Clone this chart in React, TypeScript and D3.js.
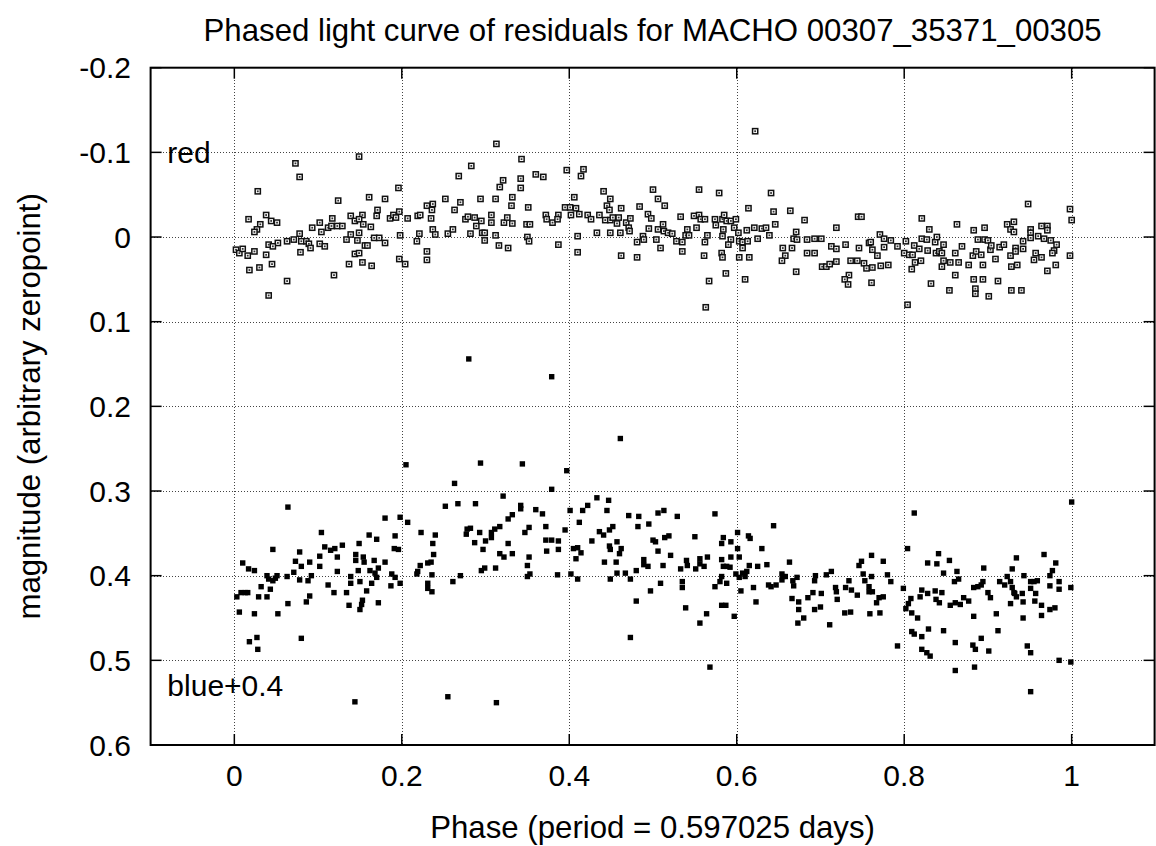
import React from "react";
import * as d3 from "d3";

const titleText = "Phased light curve of residuals for MACHO 00307_35371_00305";
const xLabelText = "Phase (period = 0.597025 days)";
const yLabelText = "magnitude (arbitrary zeropoint)";
const redLabel = "red";
const blueLabel = "blue+0.4";

const xTicks = [0, 0.2, 0.4, 0.6, 0.8, 1];
const xTickLabels = ["0", "0.2", "0.4", "0.6", "0.8", "1"];
const yTicks = [-0.2, -0.1, 0, 0.1, 0.2, 0.3, 0.4, 0.5, 0.6];
const yTickLabels = ["-0.2", "-0.1", "0", "0.1", "0.2", "0.3", "0.4", "0.5", "0.6"];

// red residuals: [phase, magnitude]
const redPoints: [number, number][] = [
[0.313,-0.110],[0.149,-0.095],[0.073,-0.087],[0.078,-0.071],[0.283,-0.084],[0.268,-0.072],[0.321,-0.067],[0.317,-0.059],[0.028,-0.054],[0.196,-0.058],[0.161,-0.047],[0.180,-0.045],[0.124,-0.043],[0.252,-0.045],[0.270,-0.041],[0.294,-0.045],[0.312,-0.045],[0.332,-0.047],[0.331,-0.037],[0.230,-0.037],[0.237,-0.039],[0.236,-0.032],[0.263,-0.032],[0.171,-0.032],[0.170,-0.025],[0.153,-0.026],[0.139,-0.025],[0.144,-0.019],[0.149,-0.021],[0.154,-0.015],[0.163,-0.012],[0.117,-0.022],[0.102,-0.017],[0.093,-0.011],[0.104,-0.006],[0.112,-0.011],[0.116,-0.013],[0.123,-0.013],[0.129,-0.013],[0.038,-0.026],[0.017,-0.021],[0.031,-0.015],[0.044,-0.019],[0.051,-0.017],[0.027,-0.009],[0.024,-0.006],[0.078,-0.004],[0.071,0.003],[0.063,0.005],[0.052,0.007],[0.041,0.009],[0.046,0.011],[0.080,0.005],[0.086,0.005],[0.089,0.008],[0.091,0.013],[0.102,0.008],[0.108,0.011],[0.079,0.018],[0.134,0.003],[0.139,-0.003],[0.147,0.004],[0.149,-0.005],[0.156,0.010],[0.159,0.010],[0.167,0.001],[0.173,0.001],[0.180,0.007],[0.198,-0.002],[0.221,-0.004],[0.218,0.005],[0.237,-0.009],[0.240,-0.003],[0.255,-0.004],[0.261,-0.009],[0.282,-0.004],[0.296,-0.005],[0.299,-0.005],[0.312,-0.002],[0.316,0.010],[0.327,0.013],[0.299,0.004],[0.276,-0.021],[0.279,-0.024],[0.287,-0.023],[0.289,-0.013],[0.295,-0.019],[0.307,-0.017],[0.307,-0.026],[0.322,-0.017],[0.326,-0.023],[0.332,-0.016],[0.207,-0.022],[0.219,-0.025],[0.222,-0.026],[0.235,-0.022],[0.186,-0.022],[0.190,-0.026],[0.193,-0.023],[0.197,-0.030],[0.002,0.015],[0.006,0.019],[0.010,0.014],[0.016,0.022],[0.024,0.017],[0.038,0.021],[0.045,0.032],[0.030,0.036],[0.018,0.039],[0.041,0.069],[0.063,0.052],[0.119,0.045],[0.137,0.032],[0.144,0.020],[0.149,0.019],[0.153,0.030],[0.164,0.034],[0.197,0.026],[0.204,0.032],[0.230,0.017],[0.230,0.027],
[0.622,-0.125],[0.343,-0.092],[0.342,-0.069],[0.342,-0.058],[0.360,-0.074],[0.369,-0.071],[0.397,-0.079],[0.414,-0.072],[0.417,-0.080],[0.351,-0.035],[0.349,-0.015],[0.353,-0.015],[0.350,0.000],[0.352,0.005],[0.372,-0.026],[0.373,-0.021],[0.380,-0.017],[0.387,-0.026],[0.386,-0.021],[0.387,0.009],[0.395,-0.035],[0.401,-0.035],[0.406,-0.047],[0.408,-0.034],[0.402,-0.026],[0.412,-0.027],[0.410,-0.001],[0.410,0.018],[0.422,-0.026],[0.426,-0.021],[0.433,-0.005],[0.436,-0.026],[0.441,-0.054],[0.449,-0.045],[0.445,-0.037],[0.448,-0.032],[0.443,-0.020],[0.449,-0.020],[0.452,-0.023],[0.457,-0.016],[0.459,-0.023],[0.462,-0.034],[0.449,-0.005],[0.461,-0.005],[0.462,0.022],[0.468,-0.017],[0.471,-0.011],[0.472,-0.007],[0.473,-0.022],[0.481,0.006],[0.481,0.024],[0.484,-0.036],[0.488,-0.001],[0.489,0.003],[0.494,-0.027],[0.498,-0.022],[0.495,-0.010],[0.500,-0.056],[0.506,-0.045],[0.514,-0.037],[0.504,0.003],[0.506,-0.009],[0.512,-0.015],[0.513,-0.007],[0.518,-0.005],[0.523,-0.004],[0.509,0.013],[0.528,0.005],[0.533,-0.024],[0.535,0.006],[0.535,0.017],[0.539,-0.002],[0.541,-0.009],[0.543,-0.002],[0.552,-0.011],[0.549,-0.025],[0.555,-0.026],[0.555,-0.056],[0.557,-0.021],[0.562,-0.021],[0.562,0.006],[0.565,-0.002],[0.561,0.022],[0.567,0.052],[0.563,0.083],[0.579,-0.052],[0.574,-0.021],[0.575,-0.014],[0.583,-0.021],[0.585,-0.026],[0.584,-0.009],[0.583,-0.001],[0.588,-0.019],[0.593,-0.019],[0.599,-0.021],[0.597,-0.011],[0.593,0.003],[0.590,0.009],[0.582,0.019],[0.583,0.024],[0.587,0.043],[0.602,-0.005],[0.603,0.005],[0.607,0.006],[0.613,0.005],[0.607,0.013],[0.603,0.024],[0.615,0.024],[0.610,0.050],[0.612,-0.008],[0.621,-0.011],[0.614,-0.034],[0.625,0.002],[0.630,-0.010],[0.635,-0.011],[0.639,-0.002],[0.641,-0.052],[0.644,-0.030],[0.646,-0.015],[0.664,-0.031],[0.655,0.013],[0.658,0.022],[0.654,0.028],[0.666,0.013],[0.668,0.002],[0.671,-0.006],[0.672,0.003],[0.671,0.041],
[0.948,-0.039],[0.998,-0.033],[1.000,-0.020],[0.998,0.022],[0.681,-0.020],[0.684,0.019],[0.693,0.019],[0.684,0.003],[0.693,0.002],[0.701,0.002],[0.702,0.035],[0.707,0.035],[0.711,0.032],[0.719,0.029],[0.713,0.011],[0.719,0.014],[0.719,-0.011],[0.730,0.009],[0.734,0.045],[0.729,0.050],[0.733,0.056],[0.736,0.028],[0.744,0.028],[0.745,-0.024],[0.749,-0.024],[0.746,0.013],[0.752,0.031],[0.755,0.037],[0.762,0.036],[0.758,0.007],[0.760,0.006],[0.762,0.015],[0.768,0.022],[0.771,-0.003],[0.776,0.002],[0.776,0.012],[0.784,0.004],[0.772,0.034],[0.781,0.033],[0.761,0.054],[0.792,0.011],[0.800,0.019],[0.802,0.005],[0.804,0.080],[0.809,0.038],[0.806,0.021],[0.810,0.021],[0.812,0.010],[0.813,0.030],[0.818,0.014],[0.821,-0.022],[0.820,0.028],[0.821,0.002],[0.830,-0.009],[0.827,0.003],[0.828,0.016],[0.832,0.055],[0.837,0.006],[0.839,0.000],[0.838,0.019],[0.842,0.017],[0.847,0.009],[0.845,0.019],[0.847,0.028],[0.845,0.035],[0.855,0.030],[0.854,0.063],[0.861,0.019],[0.861,0.045],[0.863,-0.015],[0.865,0.030],[0.869,0.011],[0.882,0.022],[0.877,0.033],[0.883,-0.008],[0.886,0.017],[0.892,0.021],[0.894,0.033],[0.896,-0.011],[0.888,0.003],[0.896,0.003],[0.900,0.004],[0.903,0.015],[0.904,0.010],[0.883,0.050],[0.894,0.050],[0.885,0.061],[0.885,0.067],[0.901,0.070],[0.912,0.052],[0.909,0.026],[0.914,0.012],[0.919,0.009],[0.923,-0.015],[0.927,-0.009],[0.931,-0.018],[0.931,-0.006],[0.927,0.022],[0.928,0.035],[0.935,0.033],[0.933,0.013],[0.933,0.017],[0.942,0.005],[0.942,0.014],[0.928,0.063],[0.940,0.063],[0.951,-0.009],[0.951,-0.005],[0.951,0.001],[0.957,0.019],[0.955,0.027],[0.964,0.024],[0.960,-0.001],[0.964,-0.013],[0.967,0.002],[0.971,-0.013],[0.971,-0.008],[0.975,0.004],[0.982,0.009],[0.979,0.016],[0.977,0.019],[0.981,0.033],[0.971,0.040]
];

// blue residuals + 0.4 offset: [phase, magnitude]
const bluePoints: [number, number][] = [
[0.205,0.269],[0.294,0.267],[0.263,0.291],[0.064,0.319],[0.321,0.306],[0.252,0.318],[0.267,0.315],[0.288,0.315],[0.180,0.332],[0.198,0.331],[0.207,0.337],[0.327,0.333],[0.332,0.328],[0.317,0.342],[0.311,0.345],[0.307,0.349],[0.307,0.355],[0.300,0.359],[0.282,0.344],[0.278,0.345],[0.277,0.351],[0.293,0.349],[0.287,0.361],[0.297,0.369],[0.327,0.362],[0.317,0.374],[0.322,0.378],[0.332,0.374],[0.299,0.391],[0.295,0.394],[0.312,0.391],[0.270,0.400],[0.261,0.407],[0.223,0.349],[0.240,0.352],[0.237,0.362],[0.238,0.375],[0.235,0.384],[0.231,0.385],[0.222,0.388],[0.219,0.395],[0.218,0.398],[0.236,0.399],[0.231,0.409],[0.231,0.415],[0.236,0.419],[0.192,0.353],[0.191,0.368],[0.196,0.369],[0.161,0.352],[0.170,0.357],[0.180,0.384],[0.172,0.391],[0.167,0.382],[0.188,0.398],[0.192,0.402],[0.198,0.409],[0.187,0.412],[0.149,0.362],[0.145,0.375],[0.145,0.382],[0.154,0.378],[0.155,0.384],[0.148,0.394],[0.162,0.394],[0.168,0.397],[0.170,0.402],[0.139,0.401],[0.139,0.409],[0.150,0.407],[0.164,0.409],[0.158,0.418],[0.153,0.429],[0.152,0.434],[0.150,0.440],[0.172,0.432],[0.137,0.435],[0.134,0.420],[0.119,0.420],[0.112,0.411],[0.123,0.395],[0.123,0.378],[0.129,0.364],[0.120,0.368],[0.115,0.370],[0.108,0.366],[0.104,0.349],[0.102,0.377],[0.102,0.389],[0.090,0.384],[0.092,0.400],[0.088,0.406],[0.080,0.389],[0.078,0.372],[0.073,0.383],[0.071,0.396],[0.078,0.405],[0.090,0.424],[0.086,0.431],[0.064,0.433],[0.080,0.474],[0.063,0.401],[0.051,0.400],[0.046,0.369],[0.039,0.400],[0.041,0.404],[0.046,0.406],[0.049,0.403],[0.043,0.416],[0.032,0.413],[0.039,0.425],[0.029,0.425],[0.052,0.445],[0.024,0.445],[0.010,0.385],[0.017,0.392],[0.024,0.394],[0.008,0.420],[0.013,0.420],[0.016,0.420],[0.003,0.425],[0.006,0.443],[0.018,0.478],[0.027,0.473],[0.028,0.487],[0.144,0.549],[0.255,0.543],[0.313,0.550],[0.280,0.144],[0.379,0.165],
[0.461,0.238],[0.344,0.268],[0.397,0.276],[0.379,0.298],[0.342,0.317],[0.342,0.321],[0.360,0.322],[0.368,0.327],[0.352,0.343],[0.347,0.349],[0.372,0.342],[0.372,0.358],[0.379,0.358],[0.373,0.371],[0.387,0.359],[0.387,0.369],[0.395,0.346],[0.352,0.378],[0.350,0.388],[0.353,0.398],[0.350,0.401],[0.386,0.399],[0.401,0.323],[0.402,0.398],[0.410,0.404],[0.405,0.368],[0.410,0.367],[0.414,0.373],[0.408,0.380],[0.412,0.337],[0.416,0.323],[0.422,0.317],[0.433,0.308],[0.447,0.311],[0.445,0.323],[0.427,0.359],[0.436,0.348],[0.441,0.352],[0.448,0.346],[0.452,0.342],[0.457,0.360],[0.448,0.365],[0.449,0.369],[0.462,0.368],[0.460,0.374],[0.442,0.384],[0.456,0.384],[0.457,0.397],[0.449,0.404],[0.467,0.397],[0.473,0.404],[0.471,0.329],[0.483,0.330],[0.482,0.342],[0.495,0.339],[0.500,0.358],[0.503,0.360],[0.506,0.371],[0.506,0.326],[0.513,0.323],[0.514,0.355],[0.519,0.353],[0.529,0.330],[0.489,0.381],[0.489,0.387],[0.494,0.389],[0.480,0.394],[0.512,0.388],[0.509,0.409],[0.521,0.376],[0.497,0.418],[0.480,0.430],[0.473,0.473],[0.533,0.392],[0.540,0.382],[0.541,0.388],[0.535,0.407],[0.535,0.414],[0.539,0.438],[0.551,0.392],[0.556,0.380],[0.556,0.386],[0.561,0.389],[0.565,0.378],[0.550,0.354],[0.574,0.327],[0.574,0.413],[0.564,0.445],[0.556,0.456],[0.568,0.508],[0.580,0.407],[0.582,0.401],[0.582,0.381],[0.584,0.389],[0.582,0.362],[0.584,0.355],[0.588,0.389],[0.592,0.390],[0.593,0.378],[0.593,0.360],[0.588,0.409],[0.582,0.435],[0.587,0.435],[0.597,0.448],[0.601,0.349],[0.601,0.368],[0.603,0.378],[0.599,0.398],[0.605,0.418],[0.603,0.402],[0.607,0.397],[0.610,0.401],[0.612,0.395],[0.615,0.388],[0.614,0.353],[0.616,0.356],[0.620,0.414],[0.623,0.431],[0.625,0.389],[0.630,0.368],[0.636,0.387],[0.644,0.341],[0.638,0.411],[0.641,0.413],[0.647,0.411],[0.654,0.398],[0.655,0.401],[0.658,0.401],[0.654,0.405],[0.663,0.384],[0.667,0.406],[0.668,0.412],[0.672,0.402],[0.666,0.427],[0.674,0.431],[0.674,0.440],[0.673,0.456],
[1.000,0.313],[0.812,0.326],[0.804,0.368],[0.761,0.376],[0.749,0.383],[0.746,0.388],[0.775,0.383],[0.751,0.398],[0.761,0.401],[0.780,0.399],[0.784,0.407],[0.753,0.406],[0.758,0.413],[0.758,0.419],[0.762,0.419],[0.744,0.423],[0.737,0.417],[0.730,0.414],[0.734,0.406],[0.718,0.414],[0.719,0.419],[0.720,0.428],[0.713,0.395],[0.707,0.399],[0.694,0.400],[0.693,0.406],[0.701,0.421],[0.691,0.420],[0.685,0.426],[0.693,0.440],[0.700,0.437],[0.680,0.450],[0.711,0.458],[0.729,0.444],[0.736,0.443],[0.759,0.445],[0.771,0.444],[0.767,0.432],[0.770,0.426],[0.775,0.425],[0.792,0.483],[0.799,0.415],[0.808,0.427],[0.805,0.433],[0.802,0.439],[0.809,0.444],[0.816,0.450],[0.809,0.466],[0.812,0.469],[0.821,0.472],[0.821,0.487],[0.827,0.491],[0.831,0.495],[0.829,0.463],[0.821,0.417],[0.819,0.425],[0.828,0.421],[0.837,0.418],[0.845,0.420],[0.838,0.428],[0.842,0.432],[0.828,0.385],[0.839,0.386],[0.841,0.374],[0.847,0.397],[0.854,0.382],[0.863,0.395],[0.860,0.407],[0.865,0.404],[0.855,0.435],[0.861,0.432],[0.867,0.434],[0.871,0.426],[0.877,0.430],[0.847,0.465],[0.861,0.479],[0.861,0.512],[0.882,0.482],[0.885,0.487],[0.884,0.508],[0.892,0.474],[0.901,0.489],[0.883,0.448],[0.883,0.414],[0.888,0.413],[0.894,0.407],[0.892,0.411],[0.895,0.391],[0.900,0.420],[0.903,0.426],[0.910,0.445],[0.912,0.465],[0.914,0.407],[0.920,0.411],[0.923,0.401],[0.927,0.407],[0.929,0.414],[0.929,0.392],[0.934,0.379],[0.943,0.400],[0.927,0.433],[0.931,0.420],[0.934,0.425],[0.932,0.421],[0.941,0.421],[0.942,0.431],[0.942,0.450],[0.947,0.483],[0.951,0.491],[0.951,0.537],[0.951,0.407],[0.951,0.415],[0.955,0.407],[0.959,0.406],[0.957,0.421],[0.956,0.430],[0.964,0.435],[0.964,0.447],[0.967,0.375],[0.974,0.400],[0.977,0.394],[0.981,0.385],[0.974,0.412],[0.974,0.440],[0.980,0.438],[0.985,0.407],[0.985,0.416],[0.985,0.500],[0.999,0.414],[0.999,0.502]
];

const W = 1156;
const H = 846;
const FONT = "'Liberation Sans', Arial, Helvetica, sans-serif";

export default function App() {
  const left = 150.6, right = 1154.6, top = 67.7, bottom = 745;
  const x = d3.scaleLinear().domain([-0.1, 1.1]).range([left, right + 0.8]);
  const y = d3.scaleLinear().domain([-0.2, 0.6]).range([top, bottom]);
  const tickLen = 11;
  const fs = 30;
  const fsTitle = 31.2;

  return (
    <div style={{ position: "absolute", left: 0, top: 0, width: W, height: H, overflow: "hidden" }}>
      <svg width={W} height={H} style={{ display: "block", background: "#fff" }} fontFamily={FONT}>
        <rect x={0} y={0} width={W} height={H} fill="#fff" />
        {/* grid */}
        <g stroke="#444" strokeWidth={1} strokeDasharray="1,2" shapeRendering="crispEdges">
          {xTicks.map((t, i) => (
            <line key={"gx" + i} x1={Math.round(x(t)) + 0.5} x2={Math.round(x(t)) + 0.5} y1={top} y2={bottom} />
          ))}
          {yTicks.slice(1, -1).map((t, i) => (
            <line key={"gy" + i} x1={left} x2={right} y1={Math.round(y(t)) + 0.5} y2={Math.round(y(t)) + 0.5} />
          ))}
        </g>
        {/* red points */}
        <g>
          {redPoints.map((p, i) => (
            <g key={"r" + i}>
              <rect x={x(p[0]) - 2.6} y={y(p[1]) - 2.6} width={5.2} height={5.2} fill="#fff" stroke="#111" strokeWidth={1.5} />
              <rect x={x(p[0]) - 0.9} y={y(p[1]) - 0.9} width={1.8} height={1.8} fill="#333" />
            </g>
          ))}
        </g>
        {/* blue points */}
        <g fill="#000">
          {bluePoints.map((p, i) => (
            <rect key={"b" + i} x={x(p[0]) - 2.7} y={y(p[1]) - 2.7} width={5.4} height={5.4} />
          ))}
        </g>
        {/* ticks */}
        <g stroke="#000" strokeWidth={1.5}>
          {xTicks.map((t, i) => (
            <g key={"tx" + i}>
              <line x1={x(t)} x2={x(t)} y1={bottom} y2={bottom - tickLen} />
              <line x1={x(t)} x2={x(t)} y1={top} y2={top + tickLen} />
            </g>
          ))}
          {yTicks.map((t, i) => (
            <g key={"ty" + i}>
              <line x1={left} x2={left + tickLen} y1={y(t)} y2={y(t)} />
              <line x1={right} x2={right - tickLen} y1={y(t)} y2={y(t)} />
            </g>
          ))}
        </g>
        {/* border */}
        <rect x={left} y={top} width={right - left} height={bottom - top} fill="none" stroke="#000" strokeWidth={2} />
        {/* tick labels */}
        <g fontSize={fs} fill="#000">
          {xTicks.map((t, i) => (
            <text key={"lx" + i} x={x(t)} y={786} textAnchor="middle">{xTickLabels[i]}</text>
          ))}
          {yTicks.map((t, i) => (
            <text key={"ly" + i} x={131} y={y(t) + 10.5} textAnchor="end">{yTickLabels[i]}</text>
          ))}
        </g>
        {/* series labels */}
        <text x={x(-0.08)} y={y(-0.1) + 10.5} fontSize={fs}>{redLabel}</text>
        <text x={x(-0.08)} y={y(0.53) + 10.5} fontSize={fs}>{blueLabel}</text>
        {/* titles */}
        <text x={(left + right) / 2} y={41} fontSize={fsTitle} textAnchor="middle">{titleText}</text>
        <text x={(left + right) / 2} y={838} fontSize={fsTitle} textAnchor="middle">{xLabelText}</text>
        <text transform={`translate(40,${(top + bottom) / 2}) rotate(-90)`} fontSize={fsTitle} textAnchor="middle">{yLabelText}</text>
      </svg>
    </div>
  );
}
